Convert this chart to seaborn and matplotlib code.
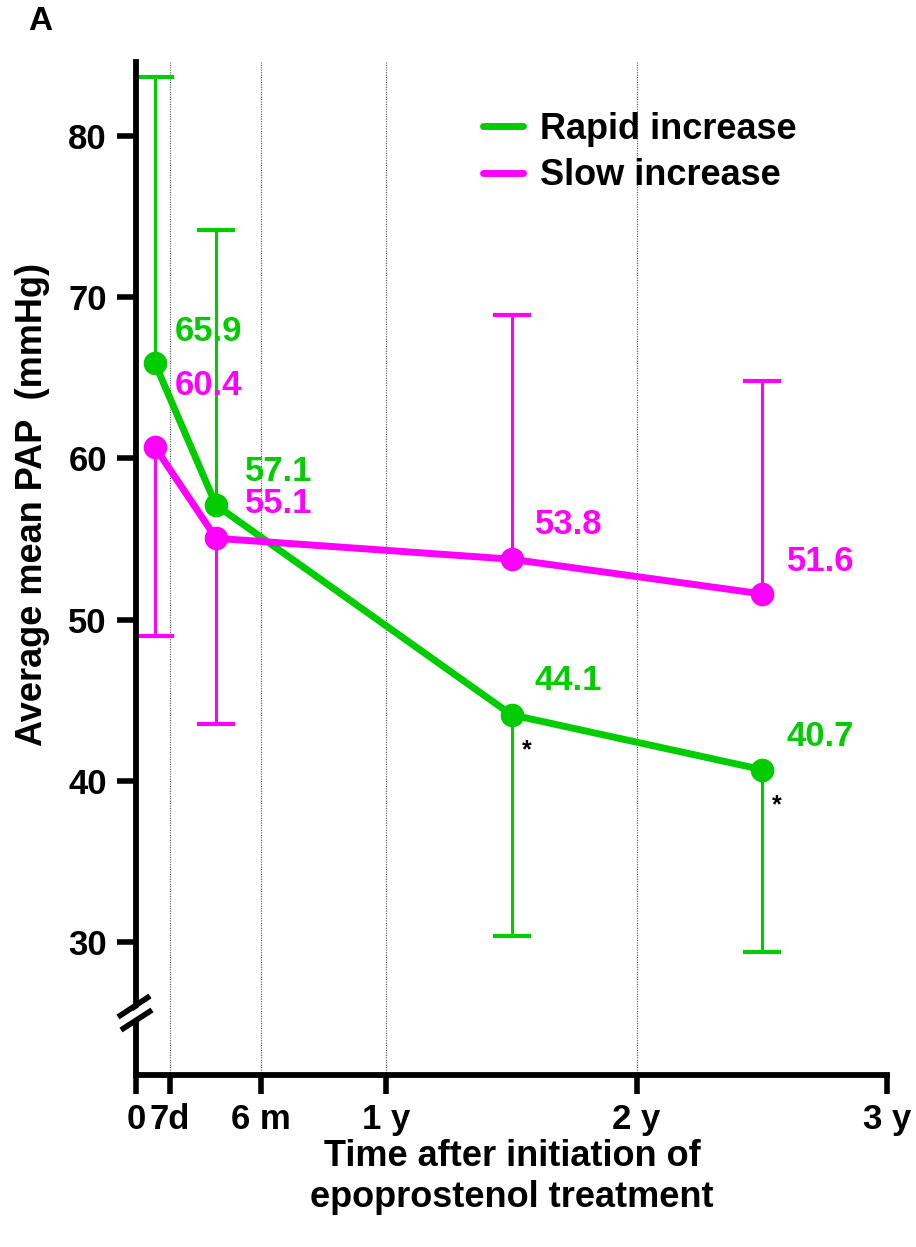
import numpy as np
import pandas as pd
import matplotlib
matplotlib.use("Agg")
import matplotlib.pyplot as plt
import seaborn as sns
from matplotlib.lines import Line2D
from matplotlib.patches import Polygon

# ---- data (x in months after initiation) ----
time_months = [0.91, 3.84, 18.0, 30.0]
rapid_mean = [65.9, 57.1, 44.1, 40.7]
rapid_err_end = [83.7, 74.2, 30.4, 29.4]
slow_mean = [60.7, 55.05, 53.75, 51.6]
slow_err_end = [49.0, 43.5, 68.9, 64.8]
rapid_labels = ["65.9", "57.1", "44.1", "40.7"]
slow_labels = ["60.4", "55.1", "53.8", "51.6"]
tick_pos = [0, 1.63, 6, 12, 24, 36]
tick_labels = ["0", "7d", "6 m", "1 y", "2 y", "3 y"]
grid_pos = [1.63, 6, 12, 24]
ytick_vals = [30, 40, 50, 60, 70, 80]
groups = ["Rapid increase", "Slow increase"]

GREEN = "#00CC00"
MAGENTA = "#FF00FF"

sns.set_style("ticks")
plt.rcParams["font.family"] = ["Liberation Sans", "DejaVu Sans"]
plt.rcParams["font.weight"] = "bold"
for k in ["text.color", "axes.labelcolor", "xtick.color", "ytick.color", "axes.edgecolor"]:
    plt.rcParams[k] = "black"

df = pd.DataFrame({
    "time": time_months * 2,
    "value": rapid_mean + slow_mean,
    "err_end": rapid_err_end + slow_err_end,
    "group": [groups[0]] * 4 + [groups[1]] * 4,
})

fig = plt.figure(figsize=(9.16, 12.47), dpi=100)
ax = fig.add_axes([136 / 916, 1 - 1075 / 1247, 751 / 916, 1013 / 1247])

ax.set_xlim(0, 36)
ax.set_ylim(21.75, 84.6)

for g in grid_pos:
    ax.axvline(g, color="#555555", lw=0.8, ls=(0, (1, 1.2)), zorder=0)

palette = {groups[0]: GREEN, groups[1]: MAGENTA}

# error bars (one-sided)
for grp, sub in df.groupby("group", sort=False):
    c = palette[grp]
    ax.vlines(sub["time"], sub["value"], sub["err_end"], color=c, lw=2.2, zorder=2)
    ax.plot(sub["time"], sub["err_end"], ls="none", marker="_", markersize=27,
            mew=3, color=c, zorder=2, clip_on=False)

sns.lineplot(data=df, x="time", y="value", hue="group", palette=palette,
             marker="o", markersize=17, markeredgewidth=0, linewidth=5,
             ax=ax, legend=False, zorder=3, sort=False, estimator=None)

# value labels
offs_r = [(20, 32), (29, 34), (23, 34), (25, 33)]
offs_s = [(20, 62), (29, 35), (23, 35), (25, 32)]
for x, y, t, o in zip(time_months, rapid_mean, rapid_labels, offs_r):
    ax.annotate(t, (x, y), xytext=o, textcoords="offset pixels", color=GREEN,
                fontsize=25, fontweight="bold", ha="left", va="center", zorder=4)
for x, y, t, o in zip(time_months, slow_mean, slow_labels, offs_s):
    ax.annotate(t, (x, y), xytext=o, textcoords="offset pixels", color=MAGENTA,
                fontsize=25, fontweight="bold", ha="left", va="center", zorder=4)

# significance asterisks
for x, y in zip(time_months[2:], rapid_mean[2:]):
    ax.annotate("*", (x, y), xytext=(15, -36), textcoords="offset pixels",
                fontsize=18, fontweight="bold", ha="center", va="center", color="black")

# legend
handles = [Line2D([], [], color=GREEN, lw=5), Line2D([], [], color=MAGENTA, lw=5)]
ax.legend(handles, groups, loc="upper left", bbox_to_anchor=(0.443, 0.965),
          frameon=False, handlelength=1.1, handletextpad=0.47,
          labelspacing=0.32, borderaxespad=0.0, borderpad=0.4,
          prop={"weight": "bold", "size": 26})

# axes styling
for s in ["top", "right"]:
    ax.spines[s].set_visible(False)
for s in ["left", "bottom"]:
    ax.spines[s].set_linewidth(4.2)
    ax.spines[s].set_color("black")

ax.set_xticks(tick_pos)
ax.set_xticklabels(tick_labels)
ax.set_yticks(ytick_vals)
ax.tick_params(axis="both", direction="out", length=14, width=4, color="black",
               labelsize=25, bottom=True, left=True)
ax.tick_params(axis="y", pad=7)
ax.tick_params(axis="x", pad=6)
for lab in ax.get_xticklabels() + ax.get_yticklabels():
    lab.set_fontweight("bold")

ax.set_xlabel("")
ax.set_ylabel("Average mean PAP  (mmHg)", fontsize=26, fontweight="bold")
ax.yaxis.set_label_coords(-0.115, 0.5627)

fig.text(512 / 916, 1 - 1177 / 1247, "Time after initiation of\nepoprostenol treatment",
         ha="center", va="center", fontsize=26, fontweight="bold", linespacing=1.2)

fig.text(40 / 916, 1 - 22 / 1247, "A", ha="center", va="center",
         fontsize=24, fontweight="bold")

# axis break marks on y spine (figure pixel coordinates)
tr = fig.dpi_scale_trans
def px(x, y):
    return (x / 100.0, (1247 - y) / 100.0)
gap = Polygon([px(120, 1020), px(151, 999), px(151, 1009), px(120, 1030)],
              closed=True, facecolor="white", edgecolor="none", transform=tr, zorder=10)
fig.add_artist(gap)
for (x0, y0, x1, y1) in [(118, 1017, 150, 996), (121, 1030, 152, 1010)]:
    (ax0, ay0), (ax1, ay1) = px(x0, y0), px(x1, y1)
    fig.add_artist(Line2D([ax0, ax1], [ay0, ay1], color="black", lw=4,
                          transform=tr, zorder=11, solid_capstyle="butt"))

fig.savefig("out.png", dpi=100)
